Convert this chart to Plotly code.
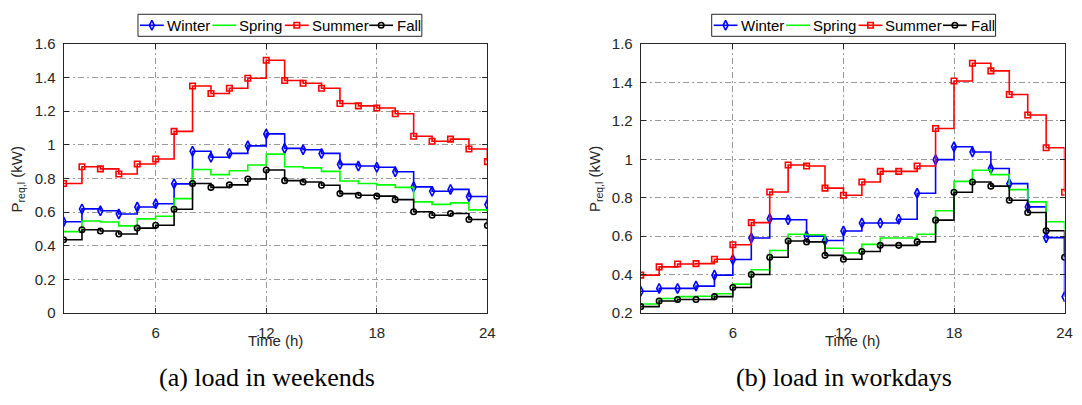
import plotly.graph_objects as go

W, H = 1082, 405

hours = list(range(1, 25))

# Required load P_req,l (kW), weekends
weekend_winter = [0.543, 0.619, 0.608, 0.589, 0.630, 0.650, 0.768, 0.962, 0.926, 0.949, 0.994, 1.065,
                  0.979, 0.971, 0.949, 0.884, 0.874, 0.867, 0.840, 0.750, 0.724, 0.735, 0.693, 0.645]
weekend_spring = [0.484, 0.547, 0.541, 0.518, 0.560, 0.575, 0.680, 0.853, 0.823, 0.846, 0.880, 0.945,
                  0.870, 0.863, 0.842, 0.785, 0.770, 0.762, 0.747, 0.661, 0.646, 0.655, 0.613, 0.600]
weekend_summer = [0.770, 0.870, 0.857, 0.827, 0.886, 0.916, 1.080, 1.350, 1.305, 1.337, 1.396, 1.503,
                  1.383, 1.366, 1.337, 1.246, 1.232, 1.219, 1.185, 1.051, 1.021, 1.034, 0.975, 0.900]
weekend_fall = [0.436, 0.495, 0.488, 0.470, 0.505, 0.522, 0.617, 0.770, 0.747, 0.762, 0.797, 0.850,
                0.787, 0.779, 0.760, 0.710, 0.700, 0.695, 0.674, 0.602, 0.581, 0.592, 0.556, 0.520]

# Required load P_req,l (kW), workdays
workday_winter = [0.313, 0.328, 0.328, 0.340, 0.397, 0.478, 0.590, 0.690, 0.685, 0.600, 0.577, 0.627,
                  0.668, 0.668, 0.688, 0.823, 0.998, 1.065, 1.038, 0.952, 0.873, 0.752, 0.592, 0.285]
workday_spring = [0.247, 0.275, 0.285, 0.287, 0.300, 0.350, 0.425, 0.525, 0.610, 0.607, 0.537, 0.512,
                  0.557, 0.590, 0.590, 0.610, 0.732, 0.885, 0.943, 0.920, 0.842, 0.778, 0.675, 0.635]
workday_summer = [0.397, 0.440, 0.455, 0.457, 0.480, 0.555, 0.670, 0.830, 0.970, 0.965, 0.850, 0.813,
                  0.882, 0.937, 0.937, 0.965, 1.160, 1.407, 1.500, 1.460, 1.337, 1.230, 1.060, 0.828]
workday_fall = [0.233, 0.262, 0.270, 0.270, 0.285, 0.333, 0.400, 0.490, 0.575, 0.570, 0.500, 0.480,
                0.520, 0.552, 0.552, 0.570, 0.683, 0.828, 0.882, 0.860, 0.787, 0.723, 0.628, 0.490]

season_names = ["Winter", "Spring", "Summer", "Fall"]
x_ticks = [6, 12, 18, 24]
left_y_ticks = [0, 0.2, 0.4, 0.6, 0.8, 1.0, 1.2, 1.4, 1.6]
right_y_ticks = [0.2, 0.4, 0.6, 0.8, 1.0, 1.2, 1.4, 1.6]
captions = ["(a) load in weekends", "(b) load in workdays"]

colors = {"Winter": "#0000ff", "Spring": "#00ff00", "Summer": "#ff0000", "Fall": "#000000"}
symbols = {"Winter": "diamond-tall-open", "Spring": None, "Summer": "square-open", "Fall": "circle-open"}
msize = {"Winter": 7, "Spring": 0, "Summer": 5.5, "Fall": 5.5}

SANS = "Liberation Sans, Arial, Helvetica, sans-serif"
SERIF = "Liberation Serif, Times New Roman, serif"
AX = "#262626"
GRID = "#9a9a9a"


def px(x):
    return x / W


def py(y):
    return 1 - y / H


def fmt(v):
    return ("%.1f" % v).rstrip("0").rstrip(".")


fig = go.Figure()

panels = [
    ("x", "y", [weekend_winter, weekend_spring, weekend_summer, weekend_fall]),
    ("x2", "y2", [workday_winter, workday_spring, workday_summer, workday_fall]),
]

for xa, ya, data in panels:
    for name, vals in zip(season_names, data):
        has_marker = symbols[name] is not None
        fig.add_trace(go.Scatter(
            x=hours, y=vals, name=name,
            mode="lines+markers" if has_marker else "lines",
            line=dict(color=colors[name], width=1.6, shape="hv"),
            marker=dict(symbol=symbols[name] or "circle", size=msize[name],
                        color=colors[name], line=dict(color=colors[name], width=1.6)),
            xaxis=xa, yaxis=ya, showlegend=False, hoverinfo="skip",
        ))

# panel geometry in pixels
plot_top, plot_bot = 36.5, 317.3
panel_x = [(64.0, 491.0), (645.5, 1072.5)]

common_x = dict(range=[1, 24], tickvals=x_ticks, ticktext=[str(t) for t in x_ticks],
                ticks="inside", ticklen=5, tickcolor=AX, mirror="ticks",
                showline=True, linecolor=AX, linewidth=1,
                showgrid=True, gridcolor=GRID, gridwidth=1, griddash="6px,3px,2px,3px",
                zeroline=False, tickfont=dict(family=SANS, size=15, color=AX),
                ticklabelstandoff=6, fixedrange=True)
common_y = dict(ticks="inside", ticklen=5, tickcolor=AX, mirror="ticks",
                showline=True, linecolor=AX, linewidth=1,
                showgrid=True, gridcolor=GRID, gridwidth=1, griddash="6px,3px,2px,3px",
                zeroline=False, tickfont=dict(family=SANS, size=15, color=AX),
                ticklabelstandoff=4, fixedrange=True)

fig.update_layout(
    xaxis=dict(domain=[px(panel_x[0][0]), px(panel_x[0][1])], anchor="y", **common_x),
    yaxis=dict(domain=[py(plot_bot), py(plot_top)], anchor="x", range=[0, 1.6],
               tickvals=left_y_ticks, ticktext=[fmt(v) for v in left_y_ticks], **common_y),
    xaxis2=dict(domain=[px(panel_x[1][0]), px(panel_x[1][1])], anchor="y2", **common_x),
    yaxis2=dict(domain=[py(plot_bot), py(plot_top)], anchor="x2", range=[0.2, 1.6],
                tickvals=right_y_ticks, ticktext=[fmt(v) for v in right_y_ticks], **common_y),
    # full-figure pixel frame used for the legend keys
    xaxis3=dict(domain=[0, 1], range=[0, W], visible=False, fixedrange=True, anchor="y3"),
    yaxis3=dict(domain=[0, 1], range=[H, 0], visible=False, fixedrange=True, anchor="x3"),
)

annotations = []
shapes = []

# legend keys: (line start offset from box left, text start offset)
legend_slots = [(2, 27.5), (75, 100), (148, 173), (233, 259)]
legend_box_w, legend_top, legend_bot = 286, 5.5, 28.5
legend_mid = 17
legend_left = [139, 717]

for lx in legend_left:
    shapes.append(dict(type="rect", xref="paper", yref="paper", layer="below",
                       x0=px(lx), x1=px(lx + legend_box_w), y0=py(legend_bot), y1=py(legend_top),
                       line=dict(color=AX, width=1)))
    for name, (ls, ts) in zip(season_names, legend_slots):
        x0 = lx + ls
        fig.add_trace(go.Scatter(
            x=[x0, x0 + 24], y=[legend_mid, legend_mid], mode="lines",
            line=dict(color=colors[name], width=1.6), xaxis="x3", yaxis="y3",
            showlegend=False, hoverinfo="skip"))
        if symbols[name] is not None:
            fig.add_trace(go.Scatter(
                x=[x0 + 12], y=[legend_mid], mode="markers",
                marker=dict(symbol=symbols[name], size=msize[name], color=colors[name],
                            line=dict(color=colors[name], width=1.6)),
                xaxis="x3", yaxis="y3", showlegend=False, hoverinfo="skip"))
        annotations.append(dict(text=name, xref="paper", yref="paper", x=px(lx + ts), y=py(legend_mid),
                                xanchor="left", yanchor="middle", showarrow=False,
                                font=dict(family=SANS, size=15, color="#000000")))

for (x0, x1), ylab_x, cap in zip(panel_x, [18, 600], captions):
    cx = (x0 + x1) / 2
    annotations.append(dict(text="Time (h)", xref="paper", yref="paper", x=px(cx), y=py(346),
                            xanchor="center", yanchor="middle", showarrow=False,
                            font=dict(family=SANS, size=15, color=AX)))
    annotations.append(dict(text="P<sub>req,l</sub> (kW)", xref="paper", yref="paper",
                            x=px(ylab_x), y=py(178), textangle=-90,
                            xanchor="center", yanchor="middle", showarrow=False,
                            font=dict(family=SANS, size=15, color=AX)))
    annotations.append(dict(text=cap, xref="paper", yref="paper", x=px(cx - 9), y=py(385),
                            xanchor="center", yanchor="middle", showarrow=False,
                            font=dict(family=SERIF, size=26, color="#000000")))

fig.update_layout(
    width=W, height=H, margin=dict(l=0, r=0, t=0, b=0),
    paper_bgcolor="white", plot_bgcolor="rgba(0,0,0,0)",
    showlegend=False, annotations=annotations, shapes=shapes,
)

fig.write_html("out.html", config={"displayModeBar": False})
